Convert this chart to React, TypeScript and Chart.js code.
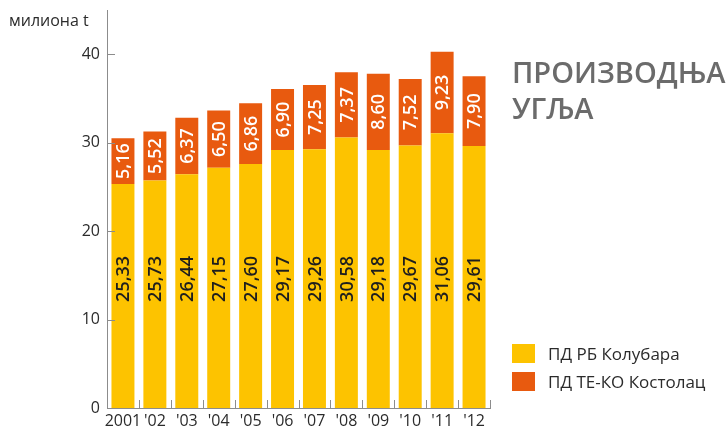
import React, { useEffect, useRef } from 'react';
import { Chart, registerables } from 'chart.js';

Chart.register(...registerables);

const years = ['2001', "'02", "'03", "'04", "'05", "'06", "'07", "'08", "'09", "'10", "'11", "'12"];
const kolubara = [25.33, 25.73, 26.44, 27.15, 27.6, 29.17, 29.26, 30.58, 29.18, 29.67, 31.06, 29.61];
const kostolac = [5.16, 5.52, 6.37, 6.5, 6.86, 6.9, 7.25, 7.37, 8.6, 7.52, 9.23, 7.9];
const seriesNames = ['ПД РБ Колубара', 'ПД ТЕ-КО Костолац'];
const yTickValues = [0, 10, 20, 30, 40];
const unitLabel = 'милиона t';
const titleLines = ['ПРОИЗВОДЊА', 'УГЉА'];
const yellowLabelAt = 14.6;

const COLORS = ['#FDC300', '#E85A0F'];
const FONT = '"Open Sans", sans-serif';
const AXIS = '#8c8c8c';
const TEXT = '#2b2b2b';

const fmt = (v: number) => v.toFixed(2).replace('.', ',');

const innerTicks = {
  id: 'innerTicks',
  afterDatasetsDraw(chart: any) {
    const { ctx, scales, chartArea } = chart;
    const x = scales.x;
    const y = scales.y;
    ctx.save();
    ctx.strokeStyle = AXIS;
    ctx.lineWidth = 1;
    ctx.beginPath();
    yTickValues.forEach((v) => {
      if (v === 0) return;
      const py = Math.round(y.getPixelForValue(v)) + 0.5;
      ctx.moveTo(chartArea.left, py);
      ctx.lineTo(chartArea.left + 8, py);
    });
    for (let i = 1; i <= years.length; i++) {
      const px = Math.round(x.getPixelForValue(i - 0.5)) + 0.5;
      ctx.moveTo(px, chartArea.bottom);
      ctx.lineTo(px, chartArea.bottom - 8);
    }
    ctx.stroke();
    ctx.restore();
  },
};

const barLabels = {
  id: 'barLabels',
  afterDatasetsDraw(chart: any) {
    const { ctx } = chart;
    const y = chart.scales.y;
    chart.data.datasets.forEach((ds: any, di: number) => {
      const meta = chart.getDatasetMeta(di);
      meta.data.forEach((bar: any, i: number) => {
        const p = bar.getProps(['x', 'y', 'base'], true);
        const cy = di === 0 ? y.getPixelForValue(yellowLabelAt) : (p.y + p.base) / 2;
        ctx.save();
        ctx.translate(p.x, cy);
        ctx.rotate(-Math.PI / 2);
        ctx.textAlign = 'center';
        ctx.textBaseline = 'middle';
        ctx.fillStyle = di === 0 ? '#1e1e1e' : '#ffffff';
        ctx.font = `600 18px ${FONT}`;
        ctx.fillText(fmt(ds.data[i]), 0, 1);
        ctx.restore();
      });
    });
  },
};

export default function App() {
  const ref = useRef<HTMLCanvasElement | null>(null);

  useEffect(() => {
    document.body.style.margin = '0';
    if (!ref.current) return;
    const chart = new Chart(ref.current, {
      type: 'bar',
      data: {
        labels: years,
        datasets: [
          { label: seriesNames[0], data: kolubara, backgroundColor: COLORS[0], borderWidth: 0 },
          { label: seriesNames[1], data: kostolac, backgroundColor: COLORS[1], borderWidth: 0 },
        ],
      },
      options: {
        animation: false,
        responsive: true,
        maintainAspectRatio: false,
        layout: { padding: { top: 10, right: 236, left: 0, bottom: 0 } },
        plugins: { legend: { display: false }, tooltip: { enabled: false } },
        datasets: { bar: { categoryPercentage: 1, barPercentage: 0.72 } },
        scales: {
          x: {
            stacked: true,
            offset: true,
            grid: { display: false, drawTicks: false },
            border: { display: true, color: AXIS, width: 1 },
            ticks: { color: TEXT, font: { family: FONT, size: 16 }, padding: 4, maxRotation: 0, autoSkip: false },
            afterFit: (s: any) => { s.height = 21; s.paddingLeft = 0; s.paddingRight = 0; },
          },
          y: {
            stacked: true,
            min: 0,
            max: 45,
            grid: { display: false, drawTicks: false },
            border: { display: true, color: AXIS, width: 1 },
            afterBuildTicks: (s: any) => { s.ticks = yTickValues.map((v) => ({ value: v })); },
            ticks: { color: TEXT, font: { family: FONT, size: 16 }, padding: 7 },
            afterFit: (s: any) => { s.width = 107; s.paddingTop = 0; s.paddingBottom = 0; },
          },
        },
      },
      plugins: [innerTicks, barLabels],
    });
    return () => chart.destroy();
  }, []);

  return (
    <div style={{ position: 'absolute', left: 0, top: 0, width: 726, height: 429, fontFamily: FONT }}>
      <canvas ref={ref} />
      <div style={{ position: 'absolute', left: 9, top: 9, fontSize: 16, color: TEXT, lineHeight: '22px', whiteSpace: 'nowrap' }}>
        {unitLabel}
      </div>
      <div style={{ position: 'absolute', left: 512, top: 54, fontSize: 29, fontWeight: 600, color: '#6b6b6b', lineHeight: '36px', whiteSpace: 'nowrap' }}>
        {titleLines.map((t) => (<div key={t}>{t}</div>))}
      </div>
      <div style={{ position: 'absolute', left: 512, top: 344 }}>
        {seriesNames.map((n, i) => (
          <div key={n} style={{ display: 'flex', alignItems: 'center', height: 19, marginBottom: 9 }}>
            <div style={{ width: 23, height: 19, background: COLORS[i] }} />
            <div style={{ marginLeft: 13, fontSize: 17, color: TEXT, whiteSpace: 'nowrap', lineHeight: '19px' }}>{n}</div>
          </div>
        ))}
      </div>
    </div>
  );
}
